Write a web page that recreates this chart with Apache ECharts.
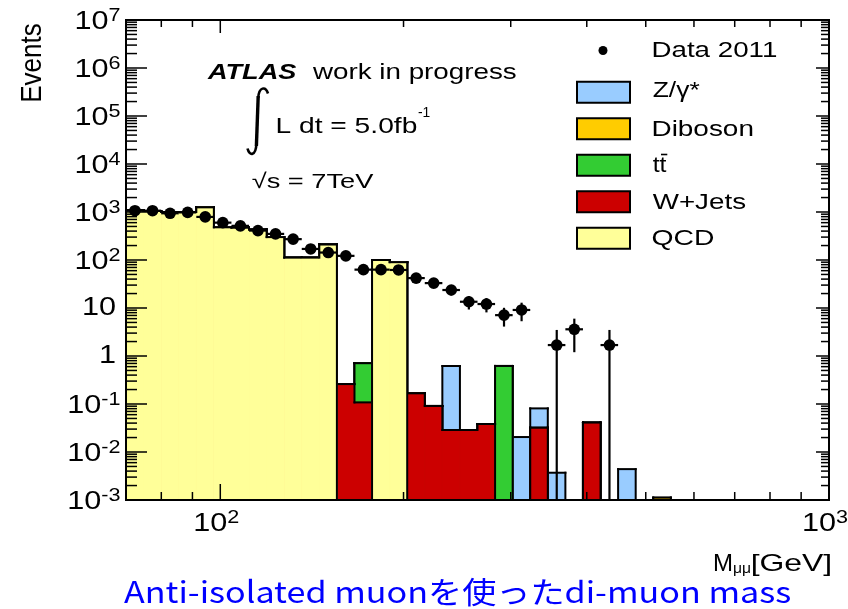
<!DOCTYPE html>
<html>
<head>
<meta charset="utf-8">
<script src="https://cdn.jsdelivr.net/npm/echarts@6.0.0/dist/echarts.min.js"></script>
<style>
html,body{margin:0;padding:0;background:#ffffff;}
#chart{width:848px;height:609px;}
</style>
</head>
<body>
<div id="chart"></div>
<script>
// ---------------- data ----------------
// 40 log-uniform bins from 70 to 1000 GeV
const binEdges = [70.00, 74.81, 79.96, 85.45, 91.33, 97.60, 104.31, 111.48, 119.15, 127.34,
  136.09, 145.45, 155.44, 166.13, 177.55, 189.76, 202.80, 216.74, 231.64, 247.56,
  264.58, 282.77, 302.21, 322.98, 345.18, 368.91, 394.27, 421.37, 450.34, 481.30,
  514.38, 549.74, 587.53, 627.92, 671.09, 717.22, 766.52, 819.21, 875.53, 935.72, 1000.00];

const qcd     = [1100,1050,1000,1000,1250,480,470,430,300,112, 112,210,0,0,100,90,0,0,0,0, 0,0,0,0,0,0,0,0,0,0, 0,0,0,0,0,0,0,0,0,0];
const wjets   = [0,0,0,0,0,0,0,0,0,0, 0,0,0.26,0.108,0,0,0.167,0.091,0.0287,0.0287, 0.0383,0,0,0.032,0,0,0.041,0,0,0, 0,0,0,0,0,0,0,0,0,0];
const ttbar   = [0,0,0,0,0,0,0,0,0,0, 0,0,0,0.6,0,0,0,0,0,0, 0,0.62,0,0,0,0,0,0,0,0, 0,0,0,0,0,0,0,0,0,0];
const diboson = [0,0,0,0,0,0,0,0,0,0, 0,0,0,0,0,0,0,0,0,0, 0,0,0,0,0,0,0,0,0,0, 0.00112,0,0,0,0,0,0,0,0,0];
const zgamma  = [0,0,0,0,0,0,0,0,0,0, 0,0,0,0,0,0,0,0,0.59,0, 0,0,0.0205,0.049,0.0037,0,0,0,0.0044,0, 0,0,0,0,0,0,0,0,0,0];

const data2011    = [1065,1065,940,980,790,600,515,410,350,272, 170,143,122,63,63,62,42,33,23.7,13.5, 12.1,7.1,9.1,null,1.69,3.6,null,1.69,null,null, null,null,null,null,null,null,null,null,null,null];
const data2011Err = [33,33,31,31,28,25,23,20,19,16, 13,12,11,8,8,8,6.5,5.7,5.5,4.2, 4,3,3.8,null,1.8,2.4,null,1.8,null,null, null,null,null,null,null,null,null,null,null,null];

const yTickValues = [1e-3, 1e-2, 1e-1, 1, 10, 100, 1e3, 1e4, 1e5, 1e6, 1e7];
const yTickLabels = ['10^{-3}', '10^{-2}', '10^{-1}', '1', '10', '10^{2}', '10^{3}', '10^{4}', '10^{5}', '10^{6}', '10^{7}'];
const xTickValues = [100, 1000];
const xTickLabels = ['10^{2}', '10^{3}'];
const xMinorTicks = [80, 90, 200, 300, 400, 500, 600, 700, 800, 900];

const legendNames = ['Data 2011', 'Z/\u03b3*', 'Diboson', 'tt', 'W+Jets', 'QCD'];

// ---------------- setup ----------------
const XMIN = 70, XMAX = 1000, YMIN = 1e-3, YMAX = 1e7;
const FONT = '"Liberation Sans", Arial, Helvetica, sans-serif';
const COL = {zgamma: '#99ccff', diboson: '#ffcc00', ttbar: '#33cc33', wjets: '#cc0000', qcd: '#ffff99'};

const yMinorTicks = [];
for (let e = -3; e < 7; e++) for (let m = 2; m <= 9; m++) yMinorTicks.push(+(m * Math.pow(10, e)).toPrecision(3));

const components = [qcd, wjets, ttbar, diboson, zgamma];     // bottom -> top
const compColors = [COL.qcd, COL.wjets, COL.ttbar, COL.diboson, COL.zgamma];
const compNames = ['QCD', 'W+Jets', 'ttbar', 'Diboson', 'Z/gamma*'];
const cum = [];
let run = new Array(binEdges.length - 1).fill(0);
components.forEach(c => { run = run.map((r, i) => r + c[i]); cum.push(run.slice()); });

function blackLine(x1, y1, x2, y2, w) {
  return {type: 'line', shape: {x1, y1, x2, y2}, style: {stroke: '#000', lineWidth: w || 2, lineCap: 'square'}};
}

function histSeries(L) {
  const vals = cum[L];
  const color = compColors[L];
  const items = vals.map((v, i) => [binEdges[i], binEdges[i + 1], v, i > 0 ? vals[i - 1] : 0, i === vals.length - 1 ? 1 : 0, 1]);
  return {
    type: 'custom', name: compNames[L], z: 2, silent: true,
    data: items,
    encode: {x: [0, 1], y: 5},
    renderItem: function (params, api) {
      const lo = api.value(0), hi = api.value(1), top = api.value(2), prev = api.value(3), last = api.value(4);
      const yBase = api.coord([lo, YMIN])[1];
      const yOf = v => v > YMIN ? api.coord([lo, Math.min(v, YMAX)])[1] : yBase;
      const xLo = api.coord([lo, YMIN])[0], xHi = api.coord([hi, YMIN])[0];
      const yTop = yOf(top), yPrev = yOf(prev);
      const ch = [];
      if (top > YMIN) {
        ch.push({type: 'rect', shape: {x: xLo, y: yTop, width: xHi - xLo, height: yBase - yTop},
                 style: {fill: color, stroke: color, lineWidth: 1}});
        ch.push(blackLine(xLo, yTop, xHi, yTop));
      }
      if (Math.abs(yPrev - yTop) > 0.01) ch.push(blackLine(xLo, yPrev, xLo, yTop));
      if (last && top > YMIN) ch.push(blackLine(xHi, yTop, xHi, yBase));
      return {type: 'group', children: ch};
    }
  };
}

const dataItems = data2011.map((v, i) => v == null ? null : [binEdges[i], binEdges[i + 1], v, data2011Err[i]]).filter(Boolean);
const dataSeries = {
  type: 'custom', name: 'Data 2011', z: 4, silent: true,
  data: dataItems, encode: {x: [0, 1], y: 2},
  renderItem: function (params, api) {
    const lo = api.value(0), hi = api.value(1), v = api.value(2), e = api.value(3);
    const xc = (lo + hi) / 2;
    const p = api.coord([xc, v]);
    const xl = api.coord([lo, v])[0], xh = api.coord([hi, v])[0];
    const yU = api.coord([xc, v + e])[1];
    const yD = (v - e) > YMIN ? api.coord([xc, v - e])[1] : api.coord([xc, YMIN])[1];
    return {type: 'group', children: [
      {type: 'line', shape: {x1: xl, y1: p[1], x2: xh, y2: p[1]}, style: {stroke: '#000', lineWidth: 2.2}},
      {type: 'line', shape: {x1: p[0], y1: yU, x2: p[0], y2: yD}, style: {stroke: '#000', lineWidth: 2.2}},
      {type: 'circle', shape: {cx: p[0], cy: p[1], r: 5.8}, style: {fill: '#000'}}
    ]};
  }
};

function richLabel(s) { return s.replace(/\^\{([^}]*)\}/g, '{s|$1}'); }
function labelEl(lbl, x, y, align) {
  const sup = lbl.indexOf('^') >= 0;
  return {type: 'text', x: x, y: y, scaleX: 1.2,
    style: {text: richLabel(lbl), fontFamily: FONT, fontSize: 25.5, fill: '#000', align: align, verticalAlign: 'middle',
      lineHeight: sup ? 29 : 26,
      rich: {s: {fontFamily: FONT, fontSize: 18, verticalAlign: 'top', lineHeight: 18, fill: '#000'}}}};
}

function tickSeries(values, isX, lenA, lenB, labels) {
  return {
    type: 'custom', z: 6, silent: true,
    data: values.map((v, i) => isX ? [v, YMIN, i] : [XMIN, v, i]),
    encode: {x: 0, y: 1},
    renderItem: function (params, api) {
      const i = api.value(2);
      const ch = [];
      if (isX) {
        const v = api.value(0);
        const pb = api.coord([v, YMIN]), pt = api.coord([v, YMAX]);
        ch.push({type: 'line', shape: {x1: pb[0], y1: pb[1], x2: pb[0], y2: pb[1] - lenA}, style: {stroke: '#000', lineWidth: 1.5}});
        ch.push({type: 'line', shape: {x1: pt[0], y1: pt[1], x2: pt[0], y2: pt[1] + lenB}, style: {stroke: '#000', lineWidth: 1.5}});
        if (labels) ch.push(labelEl(labels[i], pb[0] - 4, pb[1] + 23.5, 'center'));
      } else {
        const v = api.value(1);
        const pl = api.coord([XMIN, v]), pr = api.coord([XMAX, v]);
        ch.push({type: 'line', shape: {x1: pl[0], y1: pl[1], x2: pl[0] + lenA, y2: pl[1]}, style: {stroke: '#000', lineWidth: 1.5}});
        ch.push({type: 'line', shape: {x1: pr[0], y1: pr[1], x2: pr[0] - lenB, y2: pr[1]}, style: {stroke: '#000', lineWidth: 1.5}});
        if (labels) {
          const sup = labels[i].indexOf('^') >= 0;
          ch.push(labelEl(labels[i], sup ? pl[0] - 5.5 : pl[0] - 10, pl[1] + (sup ? 1.5 : 0), 'right'));
        }
      }
      return {type: 'group', children: ch};
    }
  };
}

const frameSeries = {
  type: 'custom', z: 7, silent: true,
  data: [[XMIN, YMIN]], encode: {x: 0, y: 1},
  renderItem: function (params, api) {
    const a = api.coord([XMIN, YMAX]), b = api.coord([XMAX, YMIN]);
    return {type: 'rect', shape: {x: a[0], y: a[1], width: b[0] - a[0], height: b[1] - a[1]},
            style: {fill: 'none', stroke: '#000', lineWidth: 2}};
  }
};

// ---------------- free texts ----------------
const mctx = document.createElement('canvas').getContext('2d');
function fitText(text, size, left, right, cy, opts) {
  opts = opts || {};
  const fam = opts.family || FONT;
  const fw = opts.weight || 'normal', fs = opts.style || 'normal';
  mctx.font = fs + ' ' + fw + ' ' + size + 'px ' + fam;
  const m = mctx.measureText(text);
  const ink = m.actualBoundingBoxLeft + m.actualBoundingBoxRight;
  const sx = (right - left) / ink;
  return {type: 'text', x: left + m.actualBoundingBoxLeft * sx, y: cy, scaleX: sx, z: 20, silent: true,
    style: {text: text, fontSize: size, fontFamily: fam, fontWeight: fw, fontStyle: fs,
            fill: opts.fill || '#000', align: 'left', verticalAlign: 'middle'}};
}

const graphics = [];
// ATLAS block
graphics.push(fitText('ATLAS', 22, 206.7, 296.7, 72.8, {weight: 'bold', style: 'italic'}));
graphics.push(fitText('work in progress', 22, 311.7, 516.7, 72.8));
// integral sign
graphics.push({type: 'bezierCurve', z: 20, silent: true,
  shape: {x1: 268, y1: 93.5, cpx1: 265.5, cpy1: 86, cpx2: 259, cpy2: 86.5, x2: 258.2, y2: 98},
  style: {fill: 'none', stroke: '#000', lineWidth: 2.6}});
graphics.push({type: 'line', z: 20, silent: true,
  shape: {x1: 258.2, y1: 96, x2: 256.4, y2: 146},
  style: {stroke: '#000', lineWidth: 3.4}});
graphics.push({type: 'bezierCurve', z: 20, silent: true,
  shape: {x1: 256.4, y1: 144, cpx1: 255.8, cpy1: 156, cpx2: 249.5, cpy2: 156.5, x2: 247.5, y2: 148.5},
  style: {fill: 'none', stroke: '#000', lineWidth: 2.6}});
graphics.push(fitText('L dt = 5.0fb', 22.5, 276.7, 416.7, 127));
graphics.push(fitText('-1', 15, 418, 430, 112.5));
graphics.push(fitText('\u221As = 7TeV', 21, 251.7, 373.3, 182.5));

// axis titles
graphics.push({type: 'text', x: 33, y: 63, rotation: Math.PI / 2, scaleY: 1.17, z: 20, silent: true,
  style: {text: 'Events', fontSize: 26, fontFamily: FONT, fill: '#000', align: 'center', verticalAlign: 'middle'}});
graphics.push(fitText('M', 24, 714, 732, 564));
graphics.push(fitText('\u03bc\u03bc', 14, 733, 751, 569));
graphics.push(fitText('[GeV]', 24, 752, 830, 564));

// legend
graphics.push({type: 'circle', z: 20, silent: true, shape: {cx: 603, cy: 50.5, r: 4.5}, style: {fill: '#000'}});
graphics.push(fitText(legendNames[0], 22.5, 652.7, 776.7, 51));
const legRows = [92.3, 128.8, 165.3, 201.8, 238.3];
const legColors = [COL.zgamma, COL.diboson, COL.ttbar, COL.wjets, COL.qcd];
const legRight = [700, 753.3, 667.3, 745.7, 714];
legRows.forEach((cy, k) => {
  graphics.push({type: 'rect', z: 20, silent: true, shape: {x: 577, y: cy - 10.5, width: 53, height: 21},
    style: {fill: legColors[k], stroke: '#000', lineWidth: 2}});
  graphics.push(fitText(legendNames[k + 1], 22.5, 652.7, legRight[k], cy + (k === 0 ? -1.5 : 0.5)));
});
graphics.push({type: 'line', z: 20, silent: true, shape: {x1: 661, y1: 154.5, x2: 667.3, y2: 154.5}, style: {stroke: '#000', lineWidth: 1.6}});

// caption
graphics.push(fitText('Anti-isolated muon\u3092\u4f7f\u3063\u305fdi-muon mass', 30, 124, 790, 592,
  {family: '"Noto Sans CJK JP", "Noto Sans CJK SC", sans-serif', fill: '#0000ff'}));

// ---------------- chart ----------------
const chart = echarts.init(document.getElementById('chart'), null, {renderer: 'canvas'});
const series = [];
for (let L = components.length - 1; L >= 0; L--) series.push(histSeries(L));
series.push(dataSeries);
series.push(tickSeries(yMinorTicks, false, 11, 8, null));
series.push(tickSeries(yTickValues, false, 21, 13, yTickLabels));
series.push(tickSeries(xMinorTicks, true, 8, 7, null));
series.push(tickSeries(xTickValues, true, 16, 13, xTickLabels));
series.push(frameSeries);

chart.setOption({
  backgroundColor: '#ffffff',
  animation: false,
  grid: {left: 126, top: 20, width: 703, height: 480, containLabel: false, show: false, outerBoundsMode: 'none'},
  xAxis: {type: 'log', logBase: 10, min: XMIN, max: XMAX,
    axisLine: {show: false}, axisTick: {show: false}, axisLabel: {show: false}, splitLine: {show: false}, minorTick: {show: false}},
  yAxis: {type: 'log', logBase: 10, min: YMIN, max: YMAX,
    axisLine: {show: false}, axisTick: {show: false}, axisLabel: {show: false}, splitLine: {show: false}, minorTick: {show: false}},
  tooltip: {show: false},
  graphic: {elements: graphics},
  series: series
});
</script>
</body>
</html>
